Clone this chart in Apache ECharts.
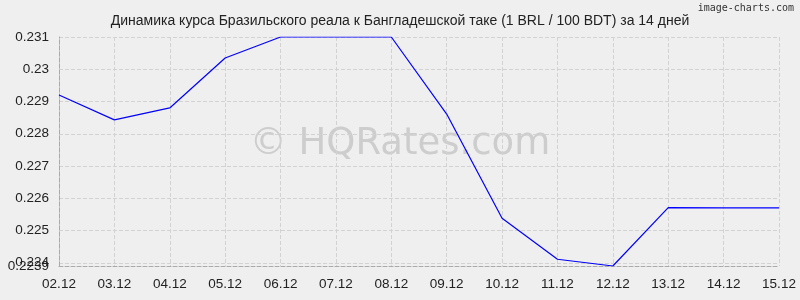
<!DOCTYPE html>
<html><head><meta charset="utf-8">
<script src="https://cdn.jsdelivr.net/npm/echarts@6/dist/echarts.min.js"></script>
<style>html,body{margin:0;padding:0;background:#efefef}#c{width:800px;height:300px}</style>
</head><body><div id="c"></div>
<script>
const categories = ['02.12','03.12','04.12','05.12','06.12','07.12','08.12','09.12','10.12','11.12','12.12','13.12','14.12','15.12'];
const rates = [0.2292,0.22843,0.2288,0.23035,0.231,0.231,0.231,0.22861,0.22538,0.22411,0.2239,0.22571,0.2257,0.2257];
const yTicks = [0.2239,0.225,0.226,0.227,0.228,0.229,0.23,0.231];
const yTicksExtra = [0.224];
const titleText = 'Динамика курса Бразильского реала к Бангладешской таке (1 BRL / 100 BDT) за 14 дней';

const yMin = 0.2239, yMax = 0.231;
const labelFont = {color:'#222',fontFamily:'Liberation Sans',fontSize:13.5};
const chart = echarts.init(document.getElementById('c'), null, {renderer:'canvas'});
chart.setOption({
  backgroundColor:'#efefef',
  animation:false,
  title:{text:titleText,left:'center',top:9,textStyle:{fontFamily:'Liberation Sans',fontSize:14,fontWeight:'normal',color:'#222'}},
  graphic:[
    {type:'text',right:6,top:3,style:{text:'image-charts.com',font:'10px DejaVu Sans Mono',fill:'#333'}},
    {type:'text',left:'center',top:126,z:-1,silent:true,style:{text:'© HQRates.com',font:'37px DejaVu Sans',fill:'#cdcdcd'}}
  ],
  grid:{left:59,right:21,top:37,bottom:34},
  xAxis:{type:'category',data:categories,boundaryGap:false,
    axisLine:{lineStyle:{color:'#aaa',type:'dashed'}},
    axisTick:{show:false},
    axisLabel:Object.assign({margin:11,interval:0},labelFont),
    splitLine:{show:true,lineStyle:{color:'#d2d2d2',type:'dashed'}}},
  yAxis:[
    {type:'value',min:yMin,max:yMax,
    axisLine:{show:true,lineStyle:{color:'#aaa',type:'dashed'}},
    axisTick:{show:false,customValues:yTicks.concat(yTicksExtra)},
    axisLabel:Object.assign({margin:10,hideOverlap:false,showMinLabel:true,showMaxLabel:true,customValues:yTicks,formatter:v=>String(+v.toFixed(4))},labelFont),
    splitLine:{show:true,lineStyle:{color:'#d2d2d2',type:'dashed'}}},
    {type:'value',min:yMin,max:yMax,position:'left',
    axisLine:{show:false},axisTick:{show:false,customValues:yTicksExtra},splitLine:{show:false},
    axisLabel:Object.assign({margin:10,hideOverlap:false,showMinLabel:true,showMaxLabel:true,customValues:yTicksExtra,formatter:v=>String(+v.toFixed(4))},labelFont)}
  ],
  series:[{type:'line',data:rates,symbol:'none',lineStyle:{color:'#0000ff',width:1.2}}]
});
</script></body></html>
